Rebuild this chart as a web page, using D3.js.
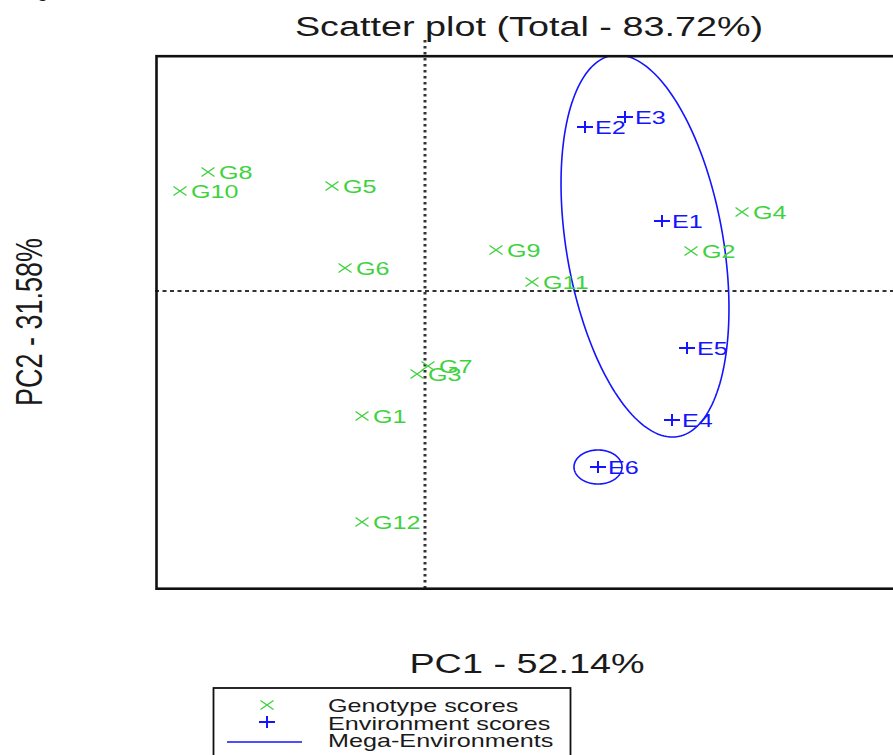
<!DOCTYPE html>
<html>
<head>
<meta charset="utf-8">
<script src="https://cdn.jsdelivr.net/npm/d3@7/dist/d3.min.js"></script>
<style>
  html, body { margin: 0; padding: 0; background: #fff; overflow: hidden; }
  svg { display: block; }
  text { font-family: "Liberation Sans", Arial, sans-serif; }
</style>
</head>
<body>
<svg id="chart" width="893" height="755"></svg>
<script>
// ---------- data ----------
const titleText = "Scatter plot (Total - 83.72%)";
const xLabel = "PC1 - 52.14%";
const yLabel = "PC2 - 31.58%";

const genotypes = ["G1","G2","G3","G4","G5","G6","G7","G8","G9","G10","G11","G12"];
const genoPC1   = [-0.63, 2.66, -0.08, 3.17, -0.93, -0.80, 0.03, -2.17, 0.71, -2.45, 1.07, -0.63];
const genoPC2   = [-1.25, 0.40, -0.83, 0.79, 1.05, 0.23, -0.75, 1.19, 0.41, 1.00, 0.09, -2.31];

const environments = ["E1","E2","E3","E4","E5","E6"];
const envPC1 = [2.37, 1.60, 2.00, 2.47, 2.62, 1.73];
const envPC2 = [0.70, 1.64, 1.74, -1.29, -0.57, -1.76];

// mega-environment ellipses (data units): centre, semi-axes, tilt of major axis (deg from PC1 axis)
const megaCX    = [2.20, 1.73];
const megaCY    = [0.45, -1.76];
const megaA     = [1.934, 0.24];
const megaB     = [0.784, 0.17];
const megaAngle = [-80.2, 0];

const legendLabels = ["Genotype scores", "Environment scores", "Mega-Environments"];

// ---------- layout ----------
const W = 893, H = 755;
const SX = 1.4; // horizontal stretch of the original picture
const green = "#3fd23f", blue = "#1414ff", ink = "#1a1a1a";

const svg = d3.select("#chart");

const x = d3.scaleLinear().domain([-2.7, 5.75]).range([155, 1000]);
const y = d3.scaleLinear().domain([-2.98, 2.36]).range([589, 55]);

function stretchedText(g, px, py, str, opts) {
  const t = g.append("text")
    .attr("transform", `translate(${px},${py}) scale(${SX},1)` + (opts.rotate ? ` rotate(${opts.rotate})` : ""))
    .attr("x", 0).attr("y", 0)
    .attr("font-size", opts.size)
    .attr("fill", opts.fill || ink)
    .attr("text-anchor", opts.anchor || "start")
    .text(str);
  return t;
}

// clipped fragment at top-left of the page
svg.append("text").attr("x", 37).attr("y", -3).attr("font-size", 20).attr("fill", ink).text("g");

// plot region clip
svg.append("clipPath").attr("id", "plotclip")
  .append("rect").attr("x", 155).attr("y", 55).attr("width", 900).attr("height", 534);

// reference lines through origin
svg.append("line")
  .attr("x1", x(0)).attr("x2", x(0)).attr("y1", 40).attr("y2", y.range()[0])
  .attr("stroke", "#333").attr("stroke-width", 3).attr("stroke-dasharray", "2.5,3.5");
svg.append("line")
  .attr("x1", x.range()[0]).attr("x2", W + 20).attr("y1", y(0)).attr("y2", y(0))
  .attr("stroke", "#333").attr("stroke-width", 2).attr("stroke-dasharray", "4,3.5");

const plot = svg.append("g").attr("clip-path", "url(#plotclip)");

// ellipses
const ellLine = d3.line().x(d => x(d[0])).y(d => y(d[1])).curve(d3.curveLinearClosed);
megaCX.forEach((cx, i) => {
  const th = megaAngle[i] * Math.PI / 180;
  const pts = d3.range(0, 360, 2).map(deg => {
    const t = deg * Math.PI / 180;
    const u = megaA[i] * Math.cos(t), v = megaB[i] * Math.sin(t);
    return [cx + u * Math.cos(th) - v * Math.sin(th), megaCY[i] + u * Math.sin(th) + v * Math.cos(th)];
  });
  plot.append("path").attr("d", ellLine(pts))
    .attr("fill", "none").attr("stroke", blue).attr("stroke-width", 1.6);
});

// markers
function crossX(g, px, py, col) {
  g.append("path")
    .attr("d", `M${px-6.5},${py-4.5}L${px+6.5},${py+4.5}M${px-6.5},${py+4.5}L${px+6.5},${py-4.5}`)
    .attr("stroke", col).attr("stroke-width", 1.4).attr("fill", "none");
}
function plus(g, px, py, col) {
  g.append("path")
    .attr("d", `M${px-8},${py}L${px+8},${py}M${px},${py-6}L${px},${py+6}`)
    .attr("stroke", col).attr("stroke-width", 2).attr("fill", "none");
}

const gG = plot.append("g");
genotypes.forEach((name, i) => {
  const px = x(genoPC1[i]), py = y(genoPC2[i]);
  crossX(gG, px, py, green);
  stretchedText(gG, px + 11, py + 6.5, name, { size: 18, fill: green });
});

const gE = plot.append("g");
environments.forEach((name, i) => {
  const px = x(envPC1[i]), py = y(envPC2[i]);
  plus(gE, px, py, blue);
  stretchedText(gE, px + 10, py + 6.5, name, { size: 18, fill: blue });
});

// plot frame
svg.append("rect")
  .attr("x", 156.5).attr("y", 56.2).attr("width", 900).attr("height", 532.5)
  .attr("fill", "none").attr("stroke", "#111").attr("stroke-width", 2.6);

// titles
stretchedText(svg, 529, 36, titleText, { size: 27, anchor: "middle" });
stretchedText(svg, 527, 673, xLabel, { size: 27, anchor: "middle" });
stretchedText(svg, 42, 322, yLabel, { size: 27, anchor: "middle", rotate: -90 });

// legend
const lg = svg.append("g");
lg.append("rect").attr("x", 213.5).attr("y", 688).attr("width", 357).attr("height", 100)
  .attr("fill", "#fff").attr("stroke", "#111").attr("stroke-width", 1.8);
const rowBase = [712, 729.5, 747];
crossX(lg, 267, 705, green);
plus(lg, 267, 722, blue);
lg.append("line").attr("x1", 227).attr("x2", 302).attr("y1", 742).attr("y2", 742)
  .attr("stroke", blue).attr("stroke-width", 1.6);
legendLabels.forEach((lab, i) => {
  stretchedText(lg, 328, rowBase[i], lab, { size: 18 });
});
</script>
</body>
</html>
